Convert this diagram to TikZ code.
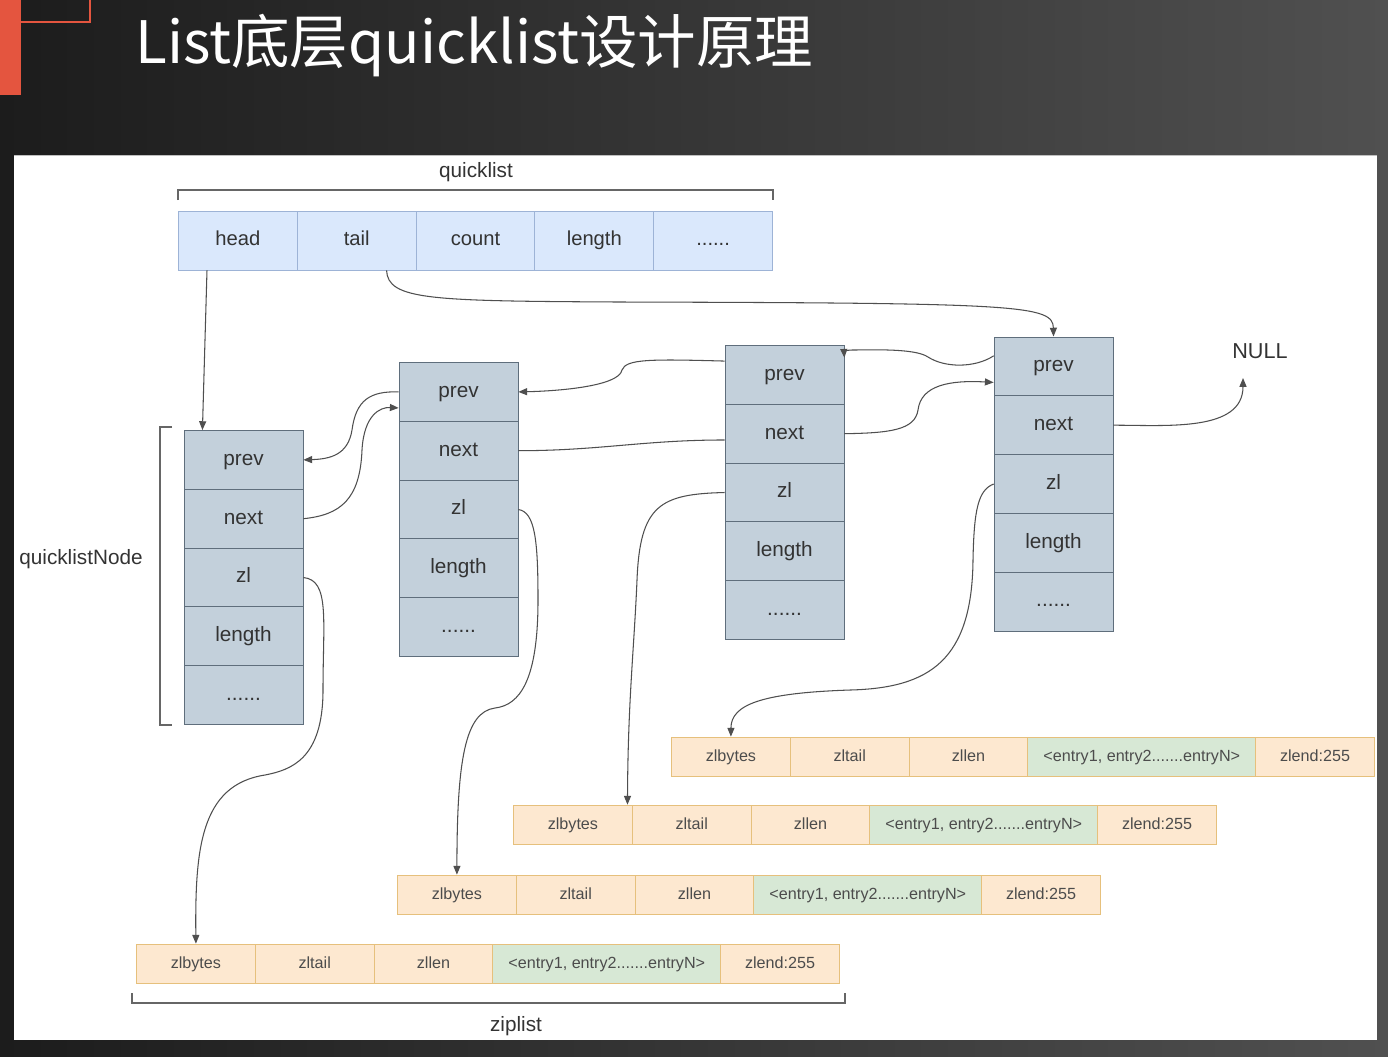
\documentclass[tikz,border=0pt]{standalone}
\usepackage{fontspec}
\setmainfont{Liberation Sans}
\newfontfamily\cjk{Noto Sans CJK SC}
\usepackage{tikz}
\usetikzlibrary{arrows.meta, positioning, calc}
\definecolor{bgdark}{HTML}{1C1C1C}
\definecolor{bgmid}{HTML}{505050}
\definecolor{accent}{HTML}{E4553F}
\definecolor{qlfill}{HTML}{DAE8FC}
\definecolor{qlline}{HTML}{9DB3D6}
\definecolor{nodefill}{HTML}{C3D0DB}
\definecolor{nodeline}{HTML}{5F6E7C}
\definecolor{zlfill}{HTML}{FDE8D0}
\definecolor{zlline}{HTML}{E6C07C}
\definecolor{entryfill}{HTML}{D7E8D5}
\definecolor{txt}{HTML}{333333}
\definecolor{wire}{HTML}{4F4F4F}

\begin{document}
\begin{tikzpicture}[x=0.02cm, y=-0.02cm,
    qlcell/.style={draw=qlline, fill=qlfill, minimum width=2.38cm,
                   minimum height=1.18cm, text height=1.6ex, text depth=0.45ex,
                   text=txt, font=\fontsize{11.5}{13}\selectfont},
    qncell/.style={draw=nodeline, fill=nodefill, minimum width=2.38cm,
                   minimum height=1.18cm, text height=1.6ex, text depth=0.45ex,
                   text=txt, font=\fontsize{11.8}{13}\selectfont},
    zlcell/.style={draw=zlline, fill=zlfill, minimum width=2.38cm,
                   minimum height=0.78cm, text height=1.6ex, text depth=0.45ex,
                   text=black!70, font=\fontsize{9.2}{11}\selectfont},
    entcell/.style={zlcell, fill=entryfill, minimum width=4.56cm},
    lbl/.style={text=txt, font=\fontsize{11.8}{13}\selectfont},
    link/.style={draw=wire, line width=0.6pt, -{Triangle[length=5pt,width=4pt]}},
    plainlink/.style={draw=wire, line width=0.6pt},
    brk/.style={draw=black!60, line width=0.8pt}
]
    \useasboundingbox (0,0) rectangle (1388,1056);
    % slide background and panel
    \shade[left color=bgdark, right color=bgmid] (0,0) rectangle (1388,1056);
    \fill[accent] (0,0) rectangle (21,95);
    \draw[accent, line width=1.2pt] (21,22) -- (90,22) -- (90,0);
    \node[anchor=base west, inner sep=0pt, text=white,
          font=\cjk\fontsize{33.3}{38}\selectfont]
        (title) at (135,63) {List底层quicklist设计原理};
    \fill[white] (14,155) rectangle (1377,1040);
    \draw[black!25] (14,155) -- (1377,155);

    % quicklist
    \matrix (qlist) at (475.5,240.5) [column sep=-0.5pt] {
        \node[qlcell] (head) {head}; & \node[qlcell] (tail) {tail}; &
        \node[qlcell] (count) {count}; & \node[qlcell] (qllength) {length}; &
        \node[qlcell] (qldots) {......}; \\
    };
    \draw[brk] (178,200) -- (178,190) -- (773,190) -- (773,200);
    \node[lbl] (qllabel) at (476,172) {quicklist};

    % quicklistNode
    \matrix (node1) at (243.5,577.5) [row sep=-0.5pt] {
        \node[qncell] (n1prev) {prev}; \\
        \node[qncell] (n1next) {next}; \\
        \node[qncell] (n1zl) {zl}; \\
        \node[qncell] (n1len) {length}; \\
        \node[qncell] (n1dots) {......}; \\
    };
    \matrix (node2) at (458.5,509.5) [row sep=-0.5pt] {
        \node[qncell] (n2prev) {prev}; \\
        \node[qncell] (n2next) {next}; \\
        \node[qncell] (n2zl) {zl}; \\
        \node[qncell] (n2len) {length}; \\
        \node[qncell] (n2dots) {......}; \\
    };
    \matrix (node3) at (784.5,492.5) [row sep=-0.5pt] {
        \node[qncell] (n3prev) {prev}; \\
        \node[qncell] (n3next) {next}; \\
        \node[qncell] (n3zl) {zl}; \\
        \node[qncell] (n3len) {length}; \\
        \node[qncell] (n3dots) {......}; \\
    };
    \matrix (node4) at (1053.5,484) [row sep=-0.5pt] {
        \node[qncell] (n4prev) {prev}; \\
        \node[qncell] (n4next) {next}; \\
        \node[qncell] (n4zl) {zl}; \\
        \node[qncell] (n4len) {length}; \\
        \node[qncell] (n4dots) {......}; \\
    };
    \draw[brk] (172,427) -- (160,427) -- (160,725) -- (172,725);
    \node[lbl] (qnlabel) at (81,559) {quicklistNode};
    \node[lbl, font=\fontsize{12.3}{14}\selectfont] (null) at (1260,351) {NULL};
    \coordinate (nullpt) at (1243,378);

    % ziplists
    \matrix (zip4) at (1023,756.5) [column sep=-0.5pt] {
        \node[zlcell] (z4bytes) {zlbytes}; & \node[zlcell] (z4tail) {zltail}; &
        \node[zlcell] (z4len) {zllen}; &
        \node[entcell] (z4entry) {<entry1, entry2.......entryN>}; &
        \node[zlcell] (z4end) {zlend:255}; \\
    };
    \matrix (zip3) at (865,824.5) [column sep=-0.5pt] {
        \node[zlcell] (z3bytes) {zlbytes}; & \node[zlcell] (z3tail) {zltail}; &
        \node[zlcell] (z3len) {zllen}; &
        \node[entcell] (z3entry) {<entry1, entry2.......entryN>}; &
        \node[zlcell] (z3end) {zlend:255}; \\
    };
    \matrix (zip2) at (749,894.5) [column sep=-0.5pt] {
        \node[zlcell] (z2bytes) {zlbytes}; & \node[zlcell] (z2tail) {zltail}; &
        \node[zlcell] (z2len) {zllen}; &
        \node[entcell] (z2entry) {<entry1, entry2.......entryN>}; &
        \node[zlcell] (z2end) {zlend:255}; \\
    };
    \matrix (zip1) at (488,963.5) [column sep=-0.5pt] {
        \node[zlcell] (z1bytes) {zlbytes}; & \node[zlcell] (z1tail) {zltail}; &
        \node[zlcell] (z1len) {zllen}; &
        \node[entcell] (z1entry) {<entry1, entry2.......entryN>}; &
        \node[zlcell] (z1end) {zlend:255}; \\
    };
    \draw[brk] (132,993) -- (132,1003) -- (845,1003) -- (845,993);
    \node[lbl] (zllabel) at (516,1026) {ziplist};

    % head / tail pointers
    \draw[link] (head.224) -- (n1prev.144);
    \draw[link] (tail.-45) .. controls (388,300) and (430,301) .. (620,302)
        .. controls (1020,303) and (1053,305) .. (n4prev.north);

    % prev / next links
    \draw[link] (n1next.east) .. controls (340,515) and (360,500) .. (362,450)
        .. controls (364,415) and (380,407) .. (n2prev.195);
    \draw[link] (n2prev.west) .. controls (370,391) and (356,400) .. (352,430)
        .. controls (348,455) and (330,459) .. (n1prev.east);
    \draw[plainlink] (n2next.east) to[out=0,in=180] (n3next.186);
    \draw[link] (n3prev.167) .. controls (650,359) and (626,359) .. (622,370)
        .. controls (619,386) and (560,391) .. (n2prev.east);
    \draw[link] (n3next.east) .. controls (890,433) and (915,430) .. (918,410)
        .. controls (921,385) and (950,380) .. (n4prev.195);
    \draw[link] (n4prev.170) .. controls (975,368) and (945,368) .. (928,357)
        .. controls (915,348) and (870,350) .. (852,350)
        .. controls (846,350) and (844,352) .. (n3prev.16);
    \draw[link] (n4next.east) to[out=0,in=-90] (nullpt);

    % zl pointers
    \draw[link] (n1zl.east) .. controls (330,580) and (323,620) .. (323,690)
        .. controls (323,760) and (290,770) .. (265,775)
        .. controls (200,785) and (195,850) .. (z1bytes.north);
    \draw[link] (n2zl.east) .. controls (535,512) and (538,540) .. (538,600)
        .. controls (538,680) and (520,705) .. (495,708)
        .. controls (465,712) and (457,760) .. (z2bytes.north);
    \draw[link] (n3zl.west) .. controls (660,494) and (640,505) .. (637,580)
        .. controls (634,650) and (628,700) .. (z3bytes.20);
    \draw[link] (n4zl.west) .. controls (978,490) and (974,510) .. (973,560)
        .. controls (972,660) and (930,688) .. (850,690)
        .. controls (760,693) and (731,705) .. (z4bytes.north);
\end{tikzpicture}
\end{document}
